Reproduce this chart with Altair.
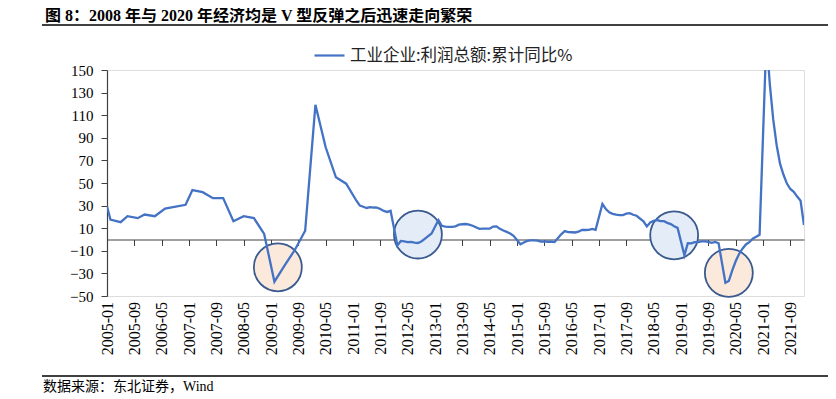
import altair as alt
import pandas as pd

series_name = "工业企业:利润总额:累计同比%"
title_text = "图 8：2008 年与 2020 年经济均是 V 型反弹之后迅速走向繁荣"
source_text = "数据来源：东北证券，Wind"

years = list(range(2005, 2023))
N = None
v2005 = [29.5, 17.7, N, N, 15.3, N, 20.6, N, N, 18.9, N, 22.1]
v2006 = [N, N, 20.6, N, N, 27.4, N, N, N, N, N, 30.7]
v2007 = [N, 43.7, N, N, 41.9, N, N, 36.6, N, N, 36.6, N]
v2008 = [N, 16.2, N, N, 20.6, N, N, 18.9, N, N, 4.9, N]
v2009 = [N, -37.3, N, N, -22.9, N, N, -9.1, N, N, 7.8, N]
v2010 = [N, 119.2, N, N, 81.6, N, N, 55.0, N, N, 49.4, N]
v2011 = [N, 34.3, 30.0, 29.0, 27.9, 28.7, 28.3, 28.2, 27.0, 25.3, 24.4, 25.4]
v2012 = [N, -5.2, -1.3, -1.6, -2.4, -2.2, -2.7, -3.1, -1.8, 0.5, 3.0, 5.3]
v2013 = [N, 17.2, 12.1, 11.4, 11.1, 11.1, 11.6, 13.1, 13.5, 13.7, 13.2, 12.2]
v2014 = [N, 9.4, 9.6, 9.6, 9.6, 11.4, 11.6, 9.4, 7.9, 6.7, 5.3, 3.3]
v2015 = [N, -4.2, -2.7, -1.3, -0.8, -0.7, -1.0, -1.9, -1.7, -2.0, -1.9, -2.3]
v2016 = [N, 4.8, 7.4, 6.5, 6.4, 6.2, 6.9, 8.4, 8.4, 8.6, 9.4, 8.5]
v2017 = [N, 31.5, 27.0, 24.0, 22.7, 22.0, 21.6, 21.6, 22.8, 23.3, 21.9, 21.0]
v2018 = [N, 16.1, 11.6, 15.0, 16.5, 17.2, 16.2, 16.2, 14.7, 13.6, 11.8, 10.3]
v2019 = [N, -14.0, -3.3, -3.4, -2.3, -2.4, -1.7, -1.7, -2.1, -2.9, -2.1, -3.3]
v2020 = [N, -38.3, -36.7, -27.4, -19.3, -12.8, -8.1, -4.4, -2.4, 0.7, 2.4, 4.1]
v2021 = [N, 178.9, 137.3, 106.0, 83.4, 66.9, 57.3, 49.5, 44.7, 42.2, 38.0, 34.3]
v2022 = [12.8]
values_by_year = [v2005, v2006, v2007, v2008, v2009, v2010, v2011, v2012, v2013,
                  v2014, v2015, v2016, v2017, v2018, v2019, v2020, v2021, v2022]

# highlighted circles (centre month, centre value, fill colour)
circ_month = ["2009-03", "2012-08", "2018-11", "2020-03"]
circ_value = [-24.6, 4.4, 3.7, -29.5]
circ_fill = ["#FBE9DC", "#E3ECF7", "#E3ECF7", "#FBE9DC"]

y_ticks = list(range(-50, 151, 20))

rows = []
for yr, vals in zip(years, values_by_year):
    for m, v in enumerate(vals, start=1):
        rows.append({"month": f"{yr}-{m:02d}", "value": v, "series": series_name})
df = pd.DataFrame(rows)
months_all = df["month"].tolist()
x_labels = months_all[::8]
df_line = df.dropna().reset_index(drop=True)
df_circ = pd.DataFrame({"month": circ_month, "value": circ_value, "fill": circ_fill})

SERIF = "Liberation Serif"
CJK = "Noto Sans CJK SC"

x_axis = alt.Axis(values=x_labels, labelAngle=-90, offset=-56.5, tickSize=6,
                  labelPadding=56, title=None, grid=False,
                  labelFont=SERIF, labelFontSize=16, labelColor="#000",
                  domainColor="#404040", tickColor="#404040", domainWidth=1.2,
                  labelOverlap=False)
y_axis = alt.Axis(values=y_ticks, tickSize=6, labelPadding=8, title=None, grid=False,
                  labelFont=SERIF, labelFontSize=15, labelColor="#000",
                  domainColor="#404040", tickColor="#404040", domainWidth=1.2)
x_enc = alt.X("month:O", scale=alt.Scale(type="point", domain=months_all, padding=0),
              axis=x_axis)
y_enc = alt.Y("value:Q", scale=alt.Scale(domain=[-50, 150], nice=False, zero=False),
              axis=y_axis)

circles = alt.Chart(df_circ).mark_point(
    shape="circle", filled=True, size=2300, opacity=1, stroke="#3A5A8F",
    strokeWidth=1.8
).encode(x=x_enc, y=y_enc, fill=alt.Fill("fill:N", scale=None))

line = alt.Chart(df_line).mark_line(strokeWidth=2.3, clip=True).encode(
    x=x_enc, y=y_enc,
    color=alt.Color("series:N", scale=alt.Scale(range=["#4472C4"]),
                    legend=alt.Legend(title=None, orient="none", legendX=206, legendY=-31,
                                      symbolType="stroke", symbolSize=900,
                                      symbolStrokeWidth=2.2, labelFont=CJK,
                                      labelFontSize=16.5, labelColor="#222",
                                      labelLimit=500))
)

dummy = pd.DataFrame({"a": [0]})
title_mark = alt.Chart(dummy).mark_text(
    text=title_text, align="left", baseline="middle", font=f"{SERIF}, {CJK}",
    fontSize=16, fontWeight="bold", color="#000"
).encode(x=alt.value(-62), y=alt.value(-54))
rule_top = alt.Chart(dummy).mark_rule(color="#000", strokeWidth=1.3).encode(
    x=alt.value(-65), x2=alt.value(725), y=alt.value(-45))
rule_bottom = alt.Chart(dummy).mark_rule(color="#000", strokeWidth=1.3).encode(
    x=alt.value(-65), x2=alt.value(725), y=alt.value(306))
source_mark = alt.Chart(dummy).mark_text(
    text=source_text, align="left", baseline="middle", font=f"{SERIF}, {CJK}",
    fontSize=14, color="#000"
).encode(x=alt.value(-64), y=alt.value(317))

chart = alt.layer(circles, line, title_mark, rule_top, rule_bottom, source_mark).properties(
    width=697, height=226,
    autosize=alt.AutoSizeParams(type="none"),
    padding={"left": 99, "top": 62, "right": 24, "bottom": 100},
).configure_view(stroke=None).configure(background="#ffffff")

chart.save("out.html", embed_options={"renderer": "svg", "actions": False})
